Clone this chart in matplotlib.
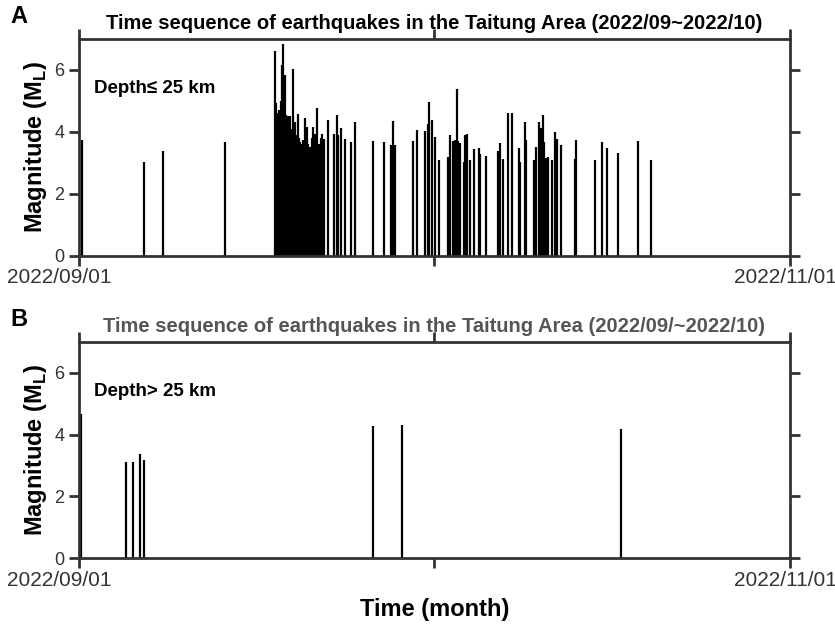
import matplotlib
matplotlib.use("Agg")
import matplotlib.pyplot as plt
import matplotlib.transforms as mtransforms

# days since 2022/09/01 and local magnitude
shallow_day = [0.23, 5.58, 7.23, 12.53, 16.79, 16.90, 16.99, 17.07, 17.16, 17.29,
               17.37, 17.42, 17.53, 17.65, 17.76, 17.85, 17.93, 18.02, 18.10, 18.21,
               18.30, 18.39, 18.47, 18.56, 18.64, 18.79, 18.87, 18.96, 19.09, 19.19,
               19.36, 19.47, 19.59, 19.69, 19.82, 19.95, 20.05, 20.22, 20.38, 20.50,
               20.63, 20.74, 20.87, 21.06, 21.38, 21.92, 22.11, 22.26, 22.45, 22.79,
               23.31, 23.71, 25.25, 26.18, 26.79, 26.90, 27.14, 28.68, 28.97, 29.71,
               29.94, 30.05, 30.31, 30.52, 30.86, 31.68, 31.83, 32.11, 32.22, 32.39,
               32.52, 32.65, 33.03, 33.16, 33.29, 33.53, 33.91, 34.28, 34.40, 34.92,
               35.97, 36.14, 36.40, 36.81, 37.19, 37.73, 37.86, 38.24, 38.33, 39.02,
               39.25, 39.47, 39.61, 39.81, 39.91, 40.08, 40.20, 40.58, 40.86, 41.02,
               41.33, 42.55, 42.68, 44.29, 44.83, 45.27, 46.22, 47.94, 49.05]
shallow_mag = [3.74, 3.02, 3.40, 3.68, 6.61, 4.94, 4.60, 4.55, 4.70, 5.00,
               4.60, 6.16, 6.83, 5.84, 4.55, 4.45, 4.50, 4.40, 4.50, 3.74,
               4.10, 6.03, 4.00, 4.33, 3.90, 4.58, 3.80, 3.69, 3.60, 3.74,
               4.45, 3.90, 4.17, 3.60, 3.53, 3.80, 4.17, 3.94, 4.78, 3.53,
               3.60, 3.80, 3.95, 3.78, 4.40, 3.95, 4.55, 3.90, 4.12, 3.76,
               3.69, 4.33, 3.72, 3.68, 3.58, 4.37, 3.58, 3.71, 4.05, 4.04,
               4.25, 4.98, 4.39, 3.85, 3.10, 3.20, 3.90, 3.71, 3.74, 5.38,
               3.71, 3.66, 3.04, 3.90, 3.95, 3.10, 3.45, 3.49, 3.28, 3.24,
               3.40, 3.66, 3.13, 4.61, 4.61, 3.47, 3.04, 4.31, 3.74, 3.10,
               3.53, 4.33, 4.12, 4.56, 3.69, 3.15, 3.20, 3.10, 4.00, 3.77,
               3.58, 3.12, 3.74, 3.11, 3.69, 3.47, 3.31, 3.70, 3.09]

deep_day = [0.20, 4.01, 4.63, 5.21, 5.58, 25.22, 27.69, 46.50]
deep_mag = [4.66, 3.11, 3.13, 3.37, 3.18, 4.28, 4.32, 4.17]

n_days = 61
date_labels = ["2022/09/01", "", "2022/11/01"]

panels = [
    dict(tag="A", day=shallow_day, mag=shallow_mag, depth="Depth\u2264 25 km",
         title="Time sequence of earthquakes in the Taitung Area (2022/09~2022/10)",
         title_color="black", rect=[0.0946, 0.5924, 0.8515, 0.3455]),
    dict(tag="B", day=deep_day, mag=deep_mag, depth="Depth> 25 km",
         title="Time sequence of earthquakes in the Taitung Area (2022/09/~2022/10)",
         title_color="#555555", rect=[0.0946, 0.1110, 0.8515, 0.3444]),
]

plt.rcParams['font.family'] = ['Liberation Sans', 'DejaVu Sans']

fig = plt.figure(figsize=(8.35, 6.28), dpi=100)

for p in panels:
    ax = fig.add_axes(p["rect"])
    ax.vlines(p["day"], 0, p["mag"], color="black", lw=1.6)
    ax.set_xlim(0, n_days)
    ax.set_ylim(0, 7)

    for s in ax.spines.values():
        s.set_linewidth(2.0)
        s.set_color("#333333")

    ax.set_xticks([0, n_days / 2, n_days])
    ax.set_xticklabels(date_labels, fontsize=15, color="#333333")
    ax.set_yticks([0, 2, 4, 6])
    ax.set_yticklabels(["0", "2", "4", "6"], fontsize=13, color="#333333")
    ax.tick_params(axis="both", direction="out", length=7, width=2.0,
                   color="#333333", top=True, right=True, labelright=False)
    ax.tick_params(axis="x", pad=2)

    # date labels sit a little inward of the end ticks
    lbls = ax.get_xticklabels()
    lbls[0].set_transform(lbls[0].get_transform() +
                          mtransforms.ScaledTranslation(-0.20, 0, fig.dpi_scale_trans))
    lbls[2].set_transform(lbls[2].get_transform() +
                          mtransforms.ScaledTranslation(-0.05, 0, fig.dpi_scale_trans))

    ax.set_ylabel("Magnitude (M$_\\mathregular{L}$)", fontsize=17,
                  fontweight="bold", labelpad=4)
    ax.set_title(p["title"], fontsize=14.5, fontweight="bold",
                 color=p["title_color"], pad=7)
    ax.text(0.021, 0.77, p["depth"], transform=ax.transAxes, fontsize=13.5,
            fontweight="bold", va="center", ha="left")
    fig.text(0.013, p["rect"][1] + p["rect"][3] + 0.036, p["tag"], fontsize=17,
             fontweight="bold", ha="left", va="center")

fig.text(0.52, 0.03, "Time (month)", fontsize=17, fontweight="bold",
         ha="center", va="center")

fig.savefig("out.png", dpi=100, facecolor="white")
